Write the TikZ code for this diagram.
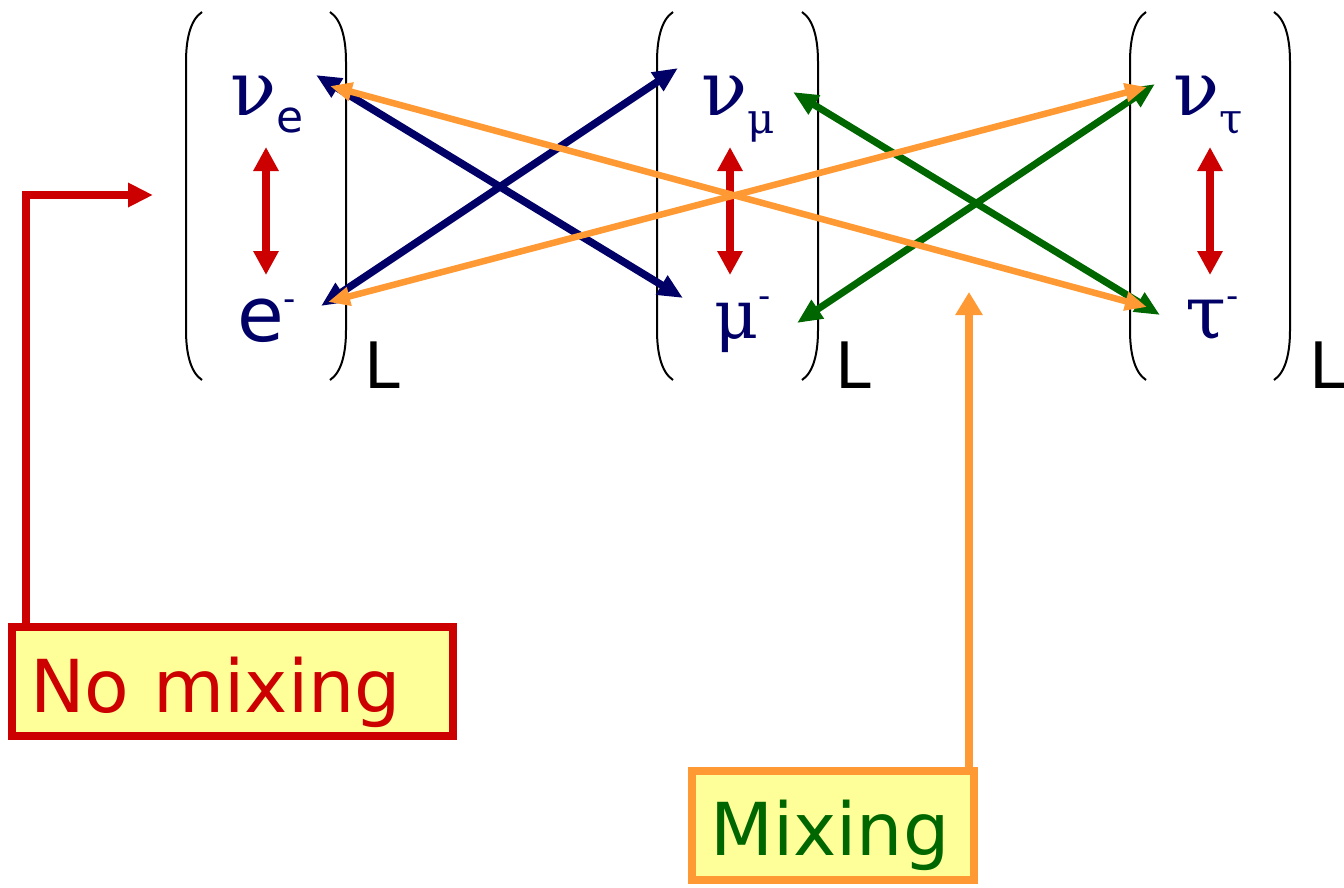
\documentclass[tikz,border=0pt]{standalone}
\usepackage{fontspec}
\setmainfont{DejaVu Sans}
\newfontfamily\grk{DejaVu Serif}
\usetikzlibrary{arrows.meta,calc}
\definecolor{navy}{HTML}{000066}
\definecolor{myred}{HTML}{CC0000}
\definecolor{myorange}{HTML}{FF9933}
\definecolor{mygreen}{HTML}{006600}
\definecolor{myyellow}{HTML}{FFFF99}
\newcommand{\fs}[1]{\fontsize{#1}{#1}\selectfont}
\newcommand{\gk}[2]{{\grk\fs{#1}#2}}
\begin{document}
\begin{tikzpicture}[x=1pt,y=-1pt,
  paren/.style={line width=2pt,black},
  part/.style={anchor=base west,inner sep=0pt,text=navy},
  ell/.style={anchor=base west,inner sep=0pt,text=black,font=\fs{64}},
  flav/.style={{Triangle[length=24pt,width=24pt]}-{Triangle[length=24pt,width=24pt]},line width=8.5pt,myred},
  bluearr/.style={{Triangle[length=25pt,width=21pt]}-{Triangle[length=25pt,width=21pt]},line width=7.5pt,navy},
  greenarr/.style={{Triangle[length=25pt,width=21pt]}-{Triangle[length=25pt,width=21pt]},line width=7pt,mygreen},
  orarr/.style={{Triangle[length=22pt,width=18pt]}-{Triangle[length=22pt,width=18pt]},line width=6.5pt,myorange},
  lbox/.style={draw,fill=myyellow,line width=8pt,outer sep=0pt,anchor=north west,inner ysep=0pt,inner xsep=18pt,align=left,font=\fs{73},text depth=0pt},
]
\useasboundingbox (0,0) rectangle (1344,887);

% parentheses
\foreach \l/\r in {186/346,657/818,1130/1290}{
  \draw[paren] (\l+16,12) .. controls (\l+4,20) and (\l,40) .. (\l,62) -- (\l,330) .. controls (\l,352) and (\l+4,372) .. (\l+16,380);
  \draw[paren] (\r-16,12) .. controls (\r-4,20) and (\r,40) .. (\r,62) -- (\r,330) .. controls (\r,352) and (\r-4,372) .. (\r-16,380);
}

% particles
\node[part] (nue) at (230,115) {\gk{76}{ν}\raisebox{-17pt}{\fs{44}e}};
\node[part] (el) at (237,341) {{\fs{76}e}\raisebox{31pt}{\fs{34}-}};
\node[part] (num) at (701,115) {\gk{76}{ν}\raisebox{-18pt}{\gk{42}{μ}}};
\node[part] (mu) at (714,338) {\gk{68}{μ}\raisebox{31pt}{\fs{34}-}};
\node[part] (nut) at (1173,115) {\gk{76}{ν}\raisebox{-18pt}{\gk{42}{τ}}};
\node[part] (tau) at (1185,338) {\gk{74}{τ}\raisebox{31pt}{\fs{34}-}};

\node[ell] (L1) at (364,388) {L};
\node[ell] (L2) at (835,388) {L};
\node[ell] (L3) at (1309,388) {L};

% vertical red arrows
\coordinate (a1t) at (266,147); \coordinate (a1b) at (266,275);
\coordinate (a2t) at (730,147); \coordinate (a2b) at (730,275);
\coordinate (a3t) at (1210,147); \coordinate (a3b) at (1210,275);
\draw[flav] (a1t) -- (a1b);
\draw[flav] (a2t) -- (a2b);
\draw[flav] (a3t) -- (a3b);

% mixing endpoints
\coordinate (nueB) at (316,75);  \coordinate (muB) at (683,298);
\coordinate (elB) at (321,306);  \coordinate (numB) at (678,68);
\coordinate (numG) at (793,92);  \coordinate (tauG) at (1160,315);
\coordinate (muG) at (797,323);  \coordinate (nutG) at (1155,84);
\coordinate (nueO) at (330,86);  \coordinate (tauO) at (1147,307);
\coordinate (elO) at (328,302);  \coordinate (nutO) at (1147,87);

\draw[bluearr] (nueB) -- (muB);
\draw[bluearr] (elB) -- (numB);
\draw[greenarr] (numG) -- (tauG);
\draw[greenarr] (muG) -- (nutG);
\draw[orarr] (nueO) -- (tauO);
\draw[orarr] (elO) -- (nutO);

% labels
\node[lbox,draw=myred,text=myred,minimum height=109pt,text width=405pt,text height=61pt] (nomix) at (12,627) {No mixing};
\node[lbox,draw=myorange,text=mygreen,minimum height=109pt,text width=246pt,text height=59pt] (mix) at (692,771) {Mixing};

\coordinate (nmtarget) at (153,195);
\coordinate (mixtarget) at (969,292);
\draw[myred,line width=8pt,-{Triangle[length=25pt,width=23pt]}] ($(nomix.north west)+(14,0)$) |- (nmtarget);
\draw[myorange,line width=8pt,-{Triangle[length=23pt,width=26pt]}] (mixtarget |- mix.north) -- (mixtarget);
\end{tikzpicture}
\end{document}
